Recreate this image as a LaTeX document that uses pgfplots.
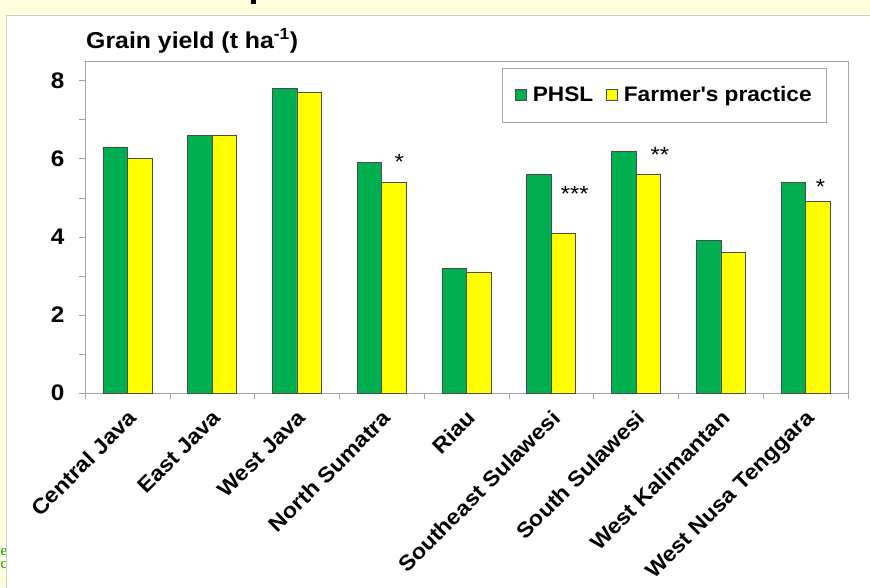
\documentclass[border=0pt]{standalone}
\usepackage{fontspec}
\setmainfont{Liberation Sans}[FakeStretch=1.08]
\newfontfamily\serfont{Liberation Serif}
\usepackage{pgfplots}
\pgfplotsset{compat=1.18}
\definecolor{phsl}{HTML}{00B050}
\definecolor{fp}{HTML}{FFFF00}
\definecolor{slidebg}{HTML}{FFFFDD}
\definecolor{framegray}{HTML}{A6A6A6}
\newcommand{\px}[1]{\fontsize{#1}{#1}\selectfont}
\begin{document}
\begin{tikzpicture}[x=1pt,y=1pt]
\fill[slidebg] (0,0) rectangle (870,587);
\node[anchor=east, inner sep=0, text=green!60!black, font=\px{15}\serfont] at (7.5,34.5) {ve};
\node[anchor=east, inner sep=0, text=green!60!black, font=\px{15}\serfont] at (7.5,21.5) {nc};
\fill[black] (251,583) rectangle (255.5,587);
\filldraw[fill=white, draw=black!20] (6.5,-2) rectangle (872,572);
\node[anchor=base west, inner sep=0, font=\px{23}\bfseries] at (86,538) {Grain yield (t ha\textsuperscript{-1})};
\begin{axis}[
  at={(85pt,194pt)}, anchor=south west,
  scale only axis, width=763pt, height=332pt,
  xmin=-0.5, xmax=8.5, ymin=0, ymax=8.5,
  ybar=0pt, bar width=24.5pt,
  axis line style={draw=framegray},
  ytick={0,2,4,6,8}, minor ytick={1,3,5,7},
  xtick={0,...,8},
  xticklabels={Central Java,East Java,West Java,North Sumatra,Riau,Southeast Sulawesi,South Sulawesi,West Kalimantan,West Nusa Tenggara},
  minor xtick={-0.5,0.5,...,8.5},
  tick align=outside, xtick pos=bottom, ytick pos=left,
  major tick length=6pt, minor tick length=6pt,
  tick style={draw=framegray, thin},
  every major x tick/.append style={draw=none},
  /pgf/number format/assume math mode=true,
  yticklabel style={font=\px{22.5}\bfseries, xshift=-11pt},
  xticklabel style={font=\px{21.5}\bfseries, rotate=45, anchor=north east, inner sep=1pt, xshift=-6pt, yshift=-5pt},
  legend style={at={(0.5465,0.979)}, anchor=north west, draw=framegray, fill=white,
    font=\px{21}\bfseries, legend columns=2, inner xsep=13pt, inner ysep=16.5pt,
    /tikz/every even column/.append style={column sep=11pt},
    /tikz/every odd column/.append style={column sep=4pt}},
  legend image code/.code={\draw[#1, draw=black!70] (0pt,-5.5pt) rectangle (11pt,5.5pt);},
  clip=false,
]
\addplot[fill=phsl, draw=black!70, line width=0.6pt] coordinates {(0,6.3) (1,6.6) (2,7.8) (3,5.9) (4,3.2) (5,5.6) (6,6.2) (7,3.9) (8,5.4)};
\addplot[fill=fp, draw=black!70, line width=0.6pt] coordinates {(0,6.0) (1,6.6) (2,7.7) (3,5.4) (4,3.1) (5,4.1) (6,5.6) (7,3.6) (8,4.9)};
\legend{PHSL, Farmer\textquotesingle s practice}
\node[font=\px{22}, yshift=-4pt] at (axis cs:3.206,6.01) {*};
\node[font=\px{22}, yshift=-4pt] at (axis cs:5.278,5.2) {***};
\node[font=\px{22}, yshift=-4pt] at (axis cs:6.28,6.2) {**};
\node[font=\px{22}, yshift=-4pt] at (axis cs:8.176,5.38) {*};
\end{axis}
\pgfresetboundingbox
\useasboundingbox (0,0) rectangle (870,587);
\end{tikzpicture}
\end{document}
